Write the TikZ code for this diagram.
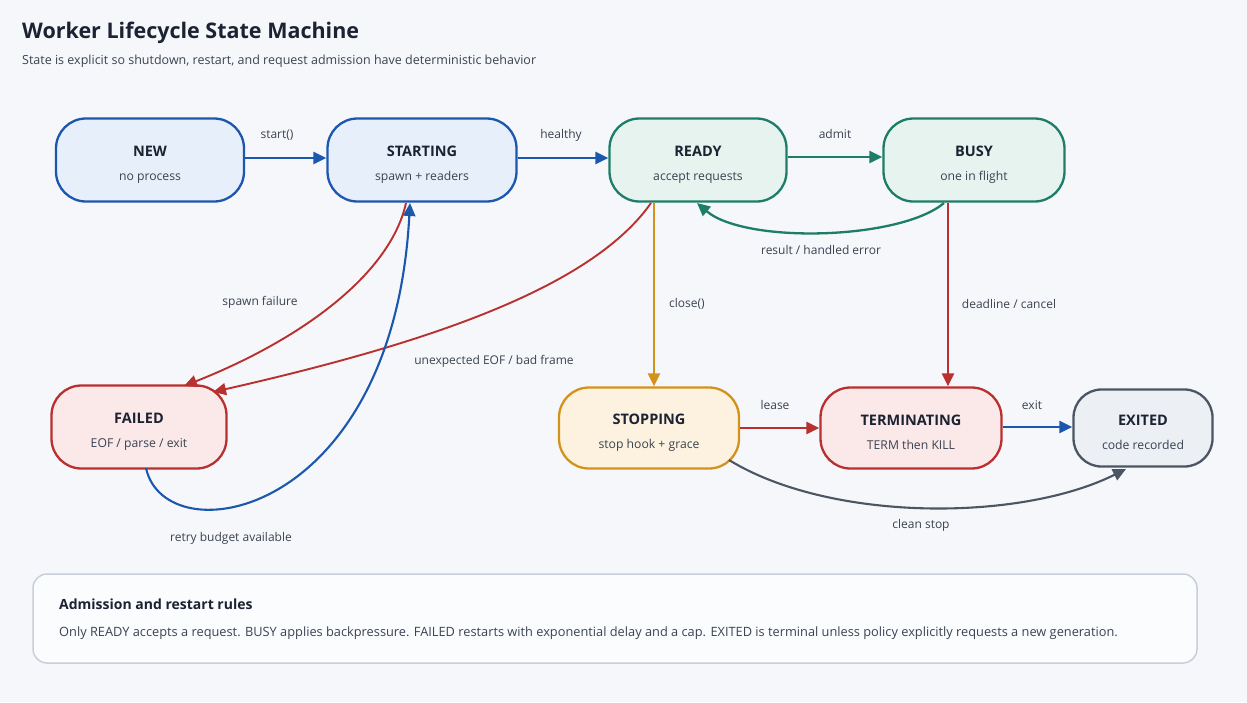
\documentclass[tikz,border=0pt]{standalone}
\usepackage{fontspec}
\setmainfont{Open Sans}
\usetikzlibrary{arrows.meta}
\definecolor{bg}{HTML}{F6F7FA}
\definecolor{ink}{HTML}{1B2333}
\definecolor{sub}{HTML}{3A4352}
\definecolor{bluel}{HTML}{1C57AE}\definecolor{bluef}{HTML}{E7EFFA}
\definecolor{greenl}{HTML}{1D7D68}\definecolor{greenf}{HTML}{E6F3EF}
\definecolor{redl}{HTML}{B8302F}\definecolor{redf}{HTML}{FBE8E8}
\definecolor{orl}{HTML}{D3931B}\definecolor{orf}{HTML}{FDF2DF}
\definecolor{grayl}{HTML}{4B5563}\definecolor{grayf}{HTML}{ECEFF3}
\definecolor{boxl}{HTML}{C9CFDA}
\tikzset{
  state/.style={draw, line width=2.3pt, rounded corners=30pt, align=center,
    minimum height=83pt, text=sub, font={\fontsize{12.2}{24}\selectfont}},
  sblue/.style={state, draw=bluel, fill=bluef},
  sgreen/.style={state, draw=greenl, fill=greenf},
  sred/.style={state, draw=redl, fill=redf},
  sor/.style={state, draw=orl, fill=orf},
  sgray/.style={state, draw=grayl, fill=grayf},
  conn/.style={line width=2.3pt, -{Triangle[length=13pt,width=12pt]}},
  lbl/.style={text=sub, font={\fontsize{12}{14}\selectfont}},
}
\newcommand{\stt}[1]{{\rule{0pt}{19.5pt}\fontsize{14.5}{24}\selectfont\bfseries\color{ink}#1}}
\begin{document}
\begin{tikzpicture}[x=1pt,y=-1pt]
\fill[bg] (0,0) rectangle (1247,702);
\useasboundingbox (0,0) rectangle (1247,702);
% title
\node[anchor=base west, text=ink, font={\fontsize{21.5}{28}\selectfont\bfseries}, inner sep=0] (title) at (22,38) {Worker Lifecycle State Machine};
\node[anchor=base west, text=sub, font={\fontsize{12.5}{16}\selectfont}, inner sep=0] (subt) at (22,64) {State is explicit so shutdown, restart, and request admission have deterministic behavior};
% states
\node[sblue, minimum width=188pt] (new) at (150,160) {\stt{NEW}\\no process};
\node[sblue, minimum width=189pt] (st) at (422,160) {\stt{STARTING}\\spawn + readers};
\node[sgreen, minimum width=177pt] (rd) at (698,160) {\stt{READY}\\accept requests};
\node[sgreen, minimum width=181pt] (bs) at (974,160) {\stt{BUSY}\\one in flight};
\node[sred, minimum width=175pt] (fa) at (139,427) {\stt{FAILED}\\EOF / parse / exit};
\node[sor, minimum width=180pt, minimum height=81pt] (sp) at (649,428) {\stt{STOPPING}\\stop hook + grace};
\node[sred, minimum width=181pt, minimum height=81pt] (tm) at (911,428) {\stt{TERMINATING}\\TERM then KILL};
\node[sgray, minimum width=139pt, minimum height=77pt, rounded corners=28pt] (ex) at (1143,428) {\stt{EXITED}\\code recorded};
% straight connectors
\draw[conn, bluel] (new.east |- 0,158) -- (st.west |- 0,158);
\node[lbl] (l1) at (277,135) {start()};
\draw[conn, bluel] (st.east |- 0,158) -- (rd.west |- 0,158);
\node[lbl] (l2) at (561,135) {healthy};
\draw[conn, greenl] (rd.east |- 0,157) -- (bs.west |- 0,157);
\node[lbl] (l3) at (835,134) {admit};
\draw[conn, orl] (rd.south -| 654,0) -- (sp.north -| 654,0);
\node[lbl] (l4) at (687,304) {close()};
\draw[conn, redl] (bs.south -| 948,0) -- (tm.north -| 948,0);
\node[lbl] (l5) at (1009,304) {deadline / cancel};
\draw[conn, redl] (sp.east |- 0,428) -- (tm.west |- 0,428);
\node[lbl] (l6) at (775,405) {lease};
\draw[conn, bluel] (tm.east |- 0,427) -- (ex.west |- 0,427);
\node[lbl] (l7) at (1032,405) {exit};
% curved connectors
\coordinate (bsS) at (944,203);
\coordinate (rdS) at (697,203);
\draw[conn, greenl] (bsS) .. controls (900,240) and (745,244) .. (rdS);
\node[lbl] (l8) at (821,250) {result / handled error};
\coordinate (stS1) at (406,203);
\coordinate (faN1) at (184,386);
\draw[conn, redl, line width=1.9pt] (stS1) .. controls (390,275) and (300,340) .. (faN1);
\node[lbl] (l9) at (260,302) {spawn failure};
\coordinate (rdS2) at (651,203);
\coordinate (faN2) at (213,392);
\draw[conn, redl, line width=1.9pt] (rdS2) .. controls (590,290) and (420,345) .. (faN2);
\node[lbl] (l10) at (494,361) {unexpected EOF / bad frame};
\coordinate (faS) at (146,468);
\coordinate (stS2) at (410,203);
\draw[conn, bluel, line width=2.1pt] (faS) .. controls (165,556) and (393,520) .. (stS2);
\node[lbl] (l11) at (231,538) {retry budget available};
\coordinate (spSE) at (729,460);
\coordinate (exS) at (1126,469);
\draw[conn, grayl, line width=2.1pt] (spSE) .. controls (830,522) and (1020,522) .. (exS);
\node[lbl] (l12) at (921,525) {clean stop};
% rules box
\node[draw=boxl, line width=1.5pt, fill=white!60!bg, rounded corners=14pt, minimum width=1164pt, minimum height=89pt] (rules) at (615,618.5) {};
\node[anchor=base west, text=ink, font={\fontsize{14}{18}\selectfont\bfseries}, inner sep=0] (rt) at (59,609) {Admission and restart rules};
\node[anchor=base west, text=sub, font={\fontsize{12.8}{16}\selectfont}, inner sep=0] (rx) at (59,636) {Only READY accepts a request. BUSY applies backpressure. FAILED restarts with exponential delay and a cap. EXITED is terminal unless policy explicitly requests a new generation.};
\end{tikzpicture}
\end{document}
